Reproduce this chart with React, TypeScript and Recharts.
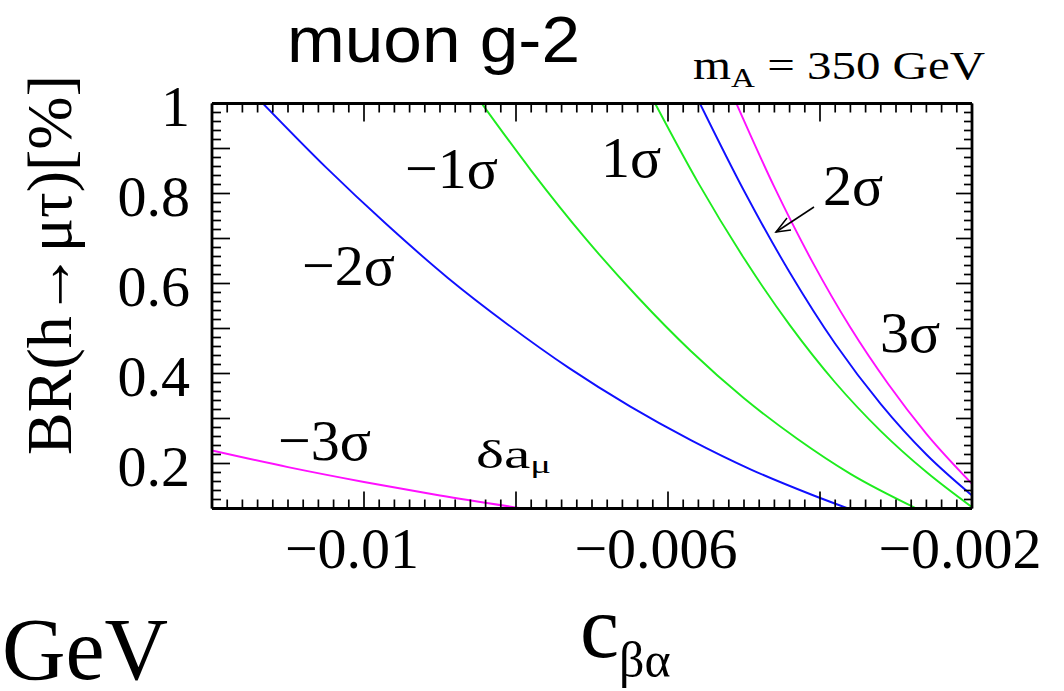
import React from 'react';
import { LineChart, Line, XAxis, YAxis } from 'recharts';

const W = 1064;
const H = 691;

const xDomain = [-0.012, -0.002];
const yDomain = [0.1, 1];
const xLabelTicks = [-0.01, -0.006, -0.002];
const yLabelTicks = [0.2, 0.4, 0.6, 0.8, 1];
// minor ticks every 0.0002 in c, every 0.02 in BR
const xTicks = Array.from({ length: 51 }, (_, i) => Number((-0.012 + i * 0.0002).toFixed(4)));
const yTicks = Array.from({ length: 46 }, (_, i) => Number((0.1 + i * 0.02).toFixed(2)));

// contours of delta a_mu
const minus3sigma = [
  { x: -0.012, y: 0.229 },
  { x: -0.011, y: 0.192 },
  { x: -0.010, y: 0.159 },
  { x: -0.009, y: 0.129 },
  { x: -0.00791, y: 0.1 },
];
const minus2sigma = [
  { x: -0.01133, y: 1.0 },
  { x: -0.0105, y: 0.858 },
  { x: -0.0097, y: 0.731 },
  { x: -0.0089, y: 0.613 },
  { x: -0.0081, y: 0.508 },
  { x: -0.0073, y: 0.412 },
  { x: -0.0065, y: 0.327 },
  { x: -0.0057, y: 0.252 },
  { x: -0.0049, y: 0.186 },
  { x: -0.0041, y: 0.13 },
  { x: -0.00363, y: 0.1 },
];
const minus1sigma = [
  { x: -0.00845, y: 1.0 },
  { x: -0.0078, y: 0.851 },
  { x: -0.0071, y: 0.703 },
  { x: -0.0064, y: 0.57 },
  { x: -0.0057, y: 0.45 },
  { x: -0.005, y: 0.345 },
  { x: -0.0043, y: 0.255 },
  { x: -0.0036, y: 0.177 },
  { x: -0.00273, y: 0.1 },
];
const plus1sigma = [
  { x: -0.00617, y: 1.0 },
  { x: -0.0056, y: 0.823 },
  { x: -0.005, y: 0.656 },
  { x: -0.0044, y: 0.508 },
  { x: -0.0038, y: 0.38 },
  { x: -0.0032, y: 0.272 },
  { x: -0.0026, y: 0.181 },
  { x: -0.002, y: 0.103 },
];
const plus2sigma = [
  { x: -0.00558, y: 1.0 },
  { x: -0.005, y: 0.806 },
  { x: -0.0044, y: 0.625 },
  { x: -0.0038, y: 0.466 },
  { x: -0.0032, y: 0.332 },
  { x: -0.0026, y: 0.22 },
  { x: -0.002, y: 0.129 },
];
const plus3sigma = [
  { x: -0.0051, y: 1.0 },
  { x: -0.0046, y: 0.814 },
  { x: -0.0041, y: 0.648 },
  { x: -0.0036, y: 0.502 },
  { x: -0.0031, y: 0.376 },
  { x: -0.0026, y: 0.266 },
  { x: -0.002, y: 0.155 },
];

const BLUE = '#1010ff';
const GREEN = '#1eec1e';
const MAGENTA = '#ff10ff';
const serif = '"Liberation Serif", "Times New Roman", serif';
const sans = '"Liberation Sans", Arial, sans-serif';

const isMajorX = (v: number) => Math.round(v * 1e4) % 20 === 0;
const isMajorY = (v: number) => Math.round(v * 100) % 10 === 0;
const near = (a: number, b: number) => Math.abs(a - b) < 1e-9;
const fmtX = (v: number) => '\u2212' + String(Math.abs(v));

const BottomTick = (props: any) => {
  const { x, y, payload } = props;
  const v = payload.value;
  const label = xLabelTicks.find((l) => near(l, v));
  return (
    <g>
      <line x1={x} y1={y} x2={x} y2={y - (isMajorX(v) ? 17 : 9)} stroke="#000" strokeWidth={1.7} />
      {label !== undefined && (
        <text x={x - 12} y={y + 59} textAnchor="middle" style={{ fontFamily: serif }} fontSize={58} fill="#000">
          {fmtX(label)}
        </text>
      )}
    </g>
  );
};

const TopTick = (props: any) => {
  const { x, y, payload } = props;
  return <line x1={x} y1={y} x2={x} y2={y + (isMajorX(payload.value) ? 18 : 9)} stroke="#000" strokeWidth={1.7} />;
};

const LeftTick = (props: any) => {
  const { x, y, payload } = props;
  const v = payload.value;
  const label = yLabelTicks.find((l) => near(l, v));
  return (
    <g>
      <line x1={x} y1={y} x2={x + (isMajorY(v) ? 18 : 9)} y2={y} stroke="#000" strokeWidth={1.7} />
      {label !== undefined && (
        <text x={x - 22} y={y + 22} textAnchor="end" style={{ fontFamily: serif }} fontSize={58} fill="#000">
          {String(label)}
        </text>
      )}
    </g>
  );
};

const RightTick = (props: any) => {
  const { x, y, payload } = props;
  return <line x1={x} y1={y} x2={x - (isMajorY(payload.value) ? 16 : 8)} y2={y} stroke="#000" strokeWidth={1.7} />;
};

const frame = { stroke: '#000', strokeWidth: 2.8 };

const Overlay = () => (
  <svg width={W} height={H} style={{ position: 'absolute', left: 0, top: 0, pointerEvents: 'none', fontFamily: serif }}>
    <text x={287} y={62} style={{ fontFamily: sans }} fontSize={64} textLength={293} lengthAdjust="spacingAndGlyphs">muon g-2</text>
    <text x={693} y={79} fontSize={40} textLength={292} lengthAdjust="spacingAndGlyphs">
      m<tspan fontSize={27} dy={8}>A</tspan><tspan dy={-8}> = 350 GeV</tspan>
    </text>
    <text transform="translate(71,265) rotate(-90)" textAnchor="middle" fontSize={64}>
      BR(h→μτ)[%]
    </text>
    <text x={2} y={679} fontSize={88}>GeV</text>
    <text x={580} y={657} fontSize={88}>
      c<tspan fontSize={50} dy={20}>βα</tspan>
    </text>
    <g fontSize={58} fill="#000">
      <text x={405} y={188}>−1σ</text>
      <text x={302} y={285}>−2σ</text>
      <text x={278} y={460}>−3σ</text>
      <text x={601} y={177}>1σ</text>
      <text x={823} y={205}>2σ</text>
      <text x={880} y={352}>3σ</text>
    </g>
    <text x={476} y={468} fontSize={40} textLength={75} lengthAdjust="spacingAndGlyphs">
      δa<tspan fontSize={26} dy={5}>μ</tspan>
    </text>
    <g stroke="#000" strokeWidth={1.5} fill="none">
      <line x1={814} y1={207} x2={776} y2={232} />
      <polyline points="787,218 776,232 791,230" />
    </g>
  </svg>
);

export default function App() {
  return (
    <div style={{ position: 'absolute', left: 0, top: 0, width: W, height: H, background: '#fff' }}>
      <LineChart width={W} height={H} margin={{ top: 102.5, right: 91, bottom: 181.5, left: 211 }}>
        <XAxis
          dataKey="x"
          type="number"
          domain={xDomain}
          allowDataOverflow
          ticks={xTicks}
          interval={0}
          height={1}
          tickSize={0}
          tickMargin={0}
          tickLine={false}
          axisLine={frame}
          tick={<BottomTick />}
        />
        <XAxis
          xAxisId="top"
          orientation="top"
          dataKey="x"
          type="number"
          domain={xDomain}
          allowDataOverflow
          ticks={xTicks}
          interval={0}
          height={1}
          tickSize={0}
          tickMargin={0}
          tickLine={false}
          axisLine={frame}
          tick={<TopTick />}
        />
        <YAxis
          type="number"
          domain={yDomain}
          allowDataOverflow
          ticks={yTicks}
          interval={0}
          width={1}
          tickSize={0}
          tickMargin={0}
          tickLine={false}
          axisLine={frame}
          tick={<LeftTick />}
        />
        <YAxis
          yAxisId="right"
          orientation="right"
          type="number"
          domain={yDomain}
          allowDataOverflow
          ticks={yTicks}
          interval={0}
          width={1}
          tickSize={0}
          tickMargin={0}
          tickLine={false}
          axisLine={frame}
          tick={<RightTick />}
        />
        <Line data={minus3sigma} dataKey="y" type="monotone" stroke={MAGENTA} strokeWidth={1.9} dot={false} isAnimationActive={false} />
        <Line data={minus2sigma} dataKey="y" type="monotone" stroke={BLUE} strokeWidth={1.9} dot={false} isAnimationActive={false} />
        <Line data={minus1sigma} dataKey="y" type="monotone" stroke={GREEN} strokeWidth={1.9} dot={false} isAnimationActive={false} />
        <Line data={plus1sigma} dataKey="y" type="monotone" stroke={GREEN} strokeWidth={1.9} dot={false} isAnimationActive={false} />
        <Line data={plus2sigma} dataKey="y" type="monotone" stroke={BLUE} strokeWidth={1.9} dot={false} isAnimationActive={false} />
        <Line data={plus3sigma} dataKey="y" type="monotone" stroke={MAGENTA} strokeWidth={1.9} dot={false} isAnimationActive={false} />
      </LineChart>
      <Overlay />
    </div>
  );
}
